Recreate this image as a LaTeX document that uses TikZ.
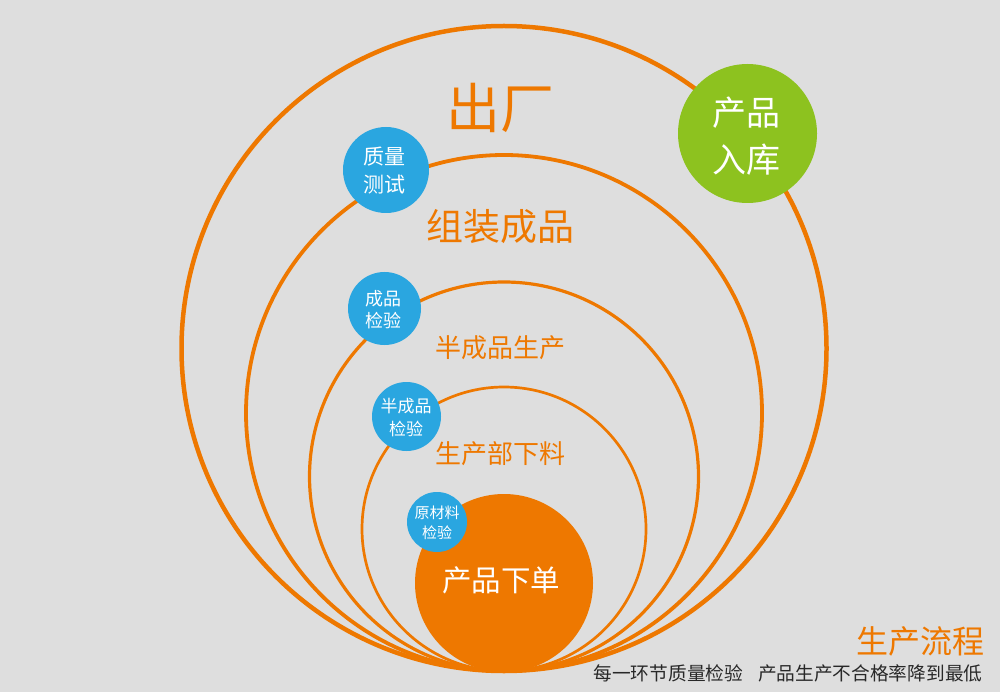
\documentclass[tikz,border=0pt]{standalone}
\usepackage{fontspec}
\setmainfont{Noto Sans CJK SC}
\definecolor{bgc}{RGB}{222,222,222}
\definecolor{orng}{RGB}{238,120,0}
\definecolor{blu}{RGB}{42,166,224}
\definecolor{grn}{RGB}{141,194,31}
\definecolor{dark}{RGB}{40,40,40}
\tikzset{
  ring/.style={circle, draw=orng, inner sep=0pt, outer sep=0pt},
  bub/.style={circle, inner sep=0pt, outer sep=0pt, fill=#1},
  wlabel/.style={text=white, align=center, inner sep=0pt},
  olabel/.style={text=orng, inner sep=0pt},
}
\newcommand{\fs}[2]{\fontsize{#1}{#2}\selectfont}
\begin{document}
\begin{tikzpicture}[x=1pt,y=-1pt]
\useasboundingbox (0,0) rectangle (1000,692);
\fill[bgc] (0,0) rectangle (1000,692);
% rings
\node[ring, line width=4.5pt, minimum size=645pt] (r1) at (504,348.5) {};
\node[ring, line width=3.8pt, minimum size=516pt] (r2) at (504,413) {};
\node[ring, line width=3.2pt, minimum size=389pt] (r3) at (504,476.5) {};
\node[ring, line width=2.7pt, minimum size=284pt] (r4) at (504,529) {};
\node[bub=orng, minimum size=178pt] (core) at (504,583) {};
% bubbles
\node[bub=grn, minimum size=139pt] (g) at (747.5,133.5) {};
\node[bub=blu, minimum size=86pt] (b1) at (386,170) {};
\node[bub=blu, minimum size=73pt] (b2) at (384.5,308.5) {};
\node[bub=blu, minimum size=69pt] (b3) at (406.5,416.5) {};
\node[bub=blu, minimum size=60pt] (b4) at (437,522) {};
% labels
\node[olabel, font=\fs{54}{60}] (t1) at (500,108) {出厂};
\node[olabel, font=\fs{37}{42}] (t2) at (500,227) {组装成品};
\node[olabel, font=\fs{26}{30}] (t3) at (500,348) {半成品生产};
\node[olabel, font=\fs{26}{30}] (t4) at (500,454) {生产部下料};
\node[wlabel, font=\fs{29.5}{34}] (t5) at (501,580) {产品下单};
\node[wlabel, font=\fs{34}{47}] (tg) at (746,136.5) {产品\\入库};
\node[wlabel, font=\fs{21}{28}] (tb1) at (384,171) {质量\\测试};
\node[wlabel, font=\fs{18}{22}] (tb2) at (383,310) {成品\\检验};
\node[wlabel, font=\fs{17}{23}] (tb3) at (406,417.5) {半成品\\检验};
\node[wlabel, font=\fs{15}{20}] (tb4) at (437,523) {原材料\\检验};
\node[olabel, font=\fs{32}{36}] (title) at (920.5,641.5) {生产流程};
\node[text=dark, inner sep=0pt, font=\fs{18.7}{22}] (sub) at (788,673.5) {每一环节质量检验\hspace{0.8em}产品生产不合格率降到最低};
\end{tikzpicture}
\end{document}
